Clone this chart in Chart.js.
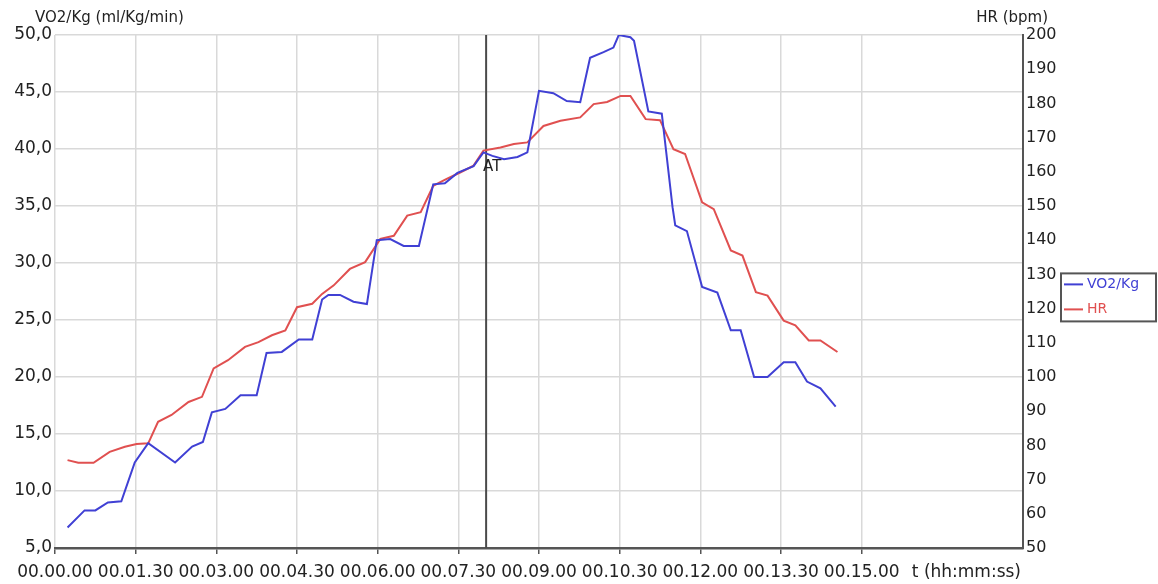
<!DOCTYPE html>
<html>
<head>
<meta charset="utf-8">
<script src="https://cdn.jsdelivr.net/npm/chart.js@4.4.1/dist/chart.umd.min.js"></script>
<style>
html, body { margin: 0; padding: 0; background: #fff; }
#wrap { width: 1158px; height: 584px; }
</style>
</head>
<body>
<div id="wrap"><canvas id="myChart" width="1158" height="584"></canvas></div>
<script>
// temps en secondes depuis le début de l'épreuve
const vo2Times = [14, 33, 45, 59, 74, 89, 104, 134, 153, 165, 175, 190, 207, 225, 236, 253, 272, 287, 298, 305, 318, 333, 348, 359, 374, 389, 406, 422, 435, 449, 467, 478, 488, 501, 516, 527, 540, 556, 571, 586, 597, 612, 623, 629, 642, 646, 662, 677, 689, 692, 705, 722, 739, 754, 765, 780, 795, 813, 826, 839, 854, 871];
const vo2Values = [6.8, 8.3, 8.3, 9.0, 9.1, 12.5, 14.2, 12.5, 13.9, 14.3, 16.9, 17.2, 18.4, 18.4, 22.1, 22.2, 23.3, 23.3, 26.8, 27.2, 27.2, 26.6, 26.4, 32.0, 32.1, 31.5, 31.5, 36.9, 37.0, 37.9, 38.5, 39.7, 39.4, 39.1, 39.3, 39.7, 45.1, 44.9, 44.2, 44.1, 48.0, 48.5, 48.9, 50.0, 49.8, 49.5, 43.3, 43.1, 34.9, 33.3, 32.8, 27.9, 27.4, 24.1, 24.1, 20.0, 20.0, 21.3, 21.3, 19.6, 19.0, 17.4];

const hrTimes = [14, 26, 43, 61, 78, 91, 104, 115, 130, 149, 164, 177, 193, 212, 227, 242, 257, 270, 287, 298, 311, 329, 346, 363, 378, 393, 408, 422, 437, 452, 467, 478, 497, 512, 527, 545, 564, 586, 601, 616, 631, 642, 659, 675, 690, 703, 722, 735, 754, 767, 782, 795, 813, 826, 841, 854, 873];
const hrValues = [75.7, 74.9, 74.9, 78.1, 79.6, 80.4, 80.6, 86.9, 88.9, 92.7, 94.2, 102.5, 104.9, 108.8, 110.2, 112.2, 113.6, 120.4, 121.4, 124.3, 126.8, 131.6, 133.6, 140.4, 141.3, 147.2, 148.2, 155.9, 157.9, 159.8, 161.8, 166.2, 167.1, 168.1, 168.6, 173.4, 174.9, 175.9, 179.8, 180.4, 182.2, 182.2, 175.4, 175.1, 166.6, 165.2, 151.1, 149.1, 137.0, 135.5, 124.8, 123.8, 116.5, 115.1, 110.7, 110.7, 107.3];

const xTickStep = 90;
const xMax = 1080;
const xLastLabel = 900;
const atTime = 481;

const blue = '#4040d4';
const red = '#e05050';
const axisColor = '#555';
const gridColor = '#d9d9d9';

function formatTime(sec) {
    const m = Math.floor(sec / 60);
    const s = sec % 60;
    return '00.' + String(m).padStart(2, '0') + '.' + String(s).padStart(2, '0');
}

function toPoints(times, values) {
    return times.map((t, i) => ({ x: t, y: values[i] }));
}

// titres des axes, ligne AT et légende encadrée
const extras = {
    id: 'extras',
    beforeDatasetsDraw(chart) {
        const ctx = chart.ctx;
        const area = chart.chartArea;
        const atX = chart.scales.x.getPixelForValue(atTime);
        ctx.save();
        ctx.strokeStyle = '#4a4a4a';
        ctx.lineWidth = 2;
        ctx.beginPath();
        ctx.moveTo(atX, area.top);
        ctx.lineTo(atX, area.bottom);
        ctx.stroke();
        ctx.restore();
    },
    afterDraw(chart) {
        const ctx = chart.ctx;
        const area = chart.chartArea;
        const atX = chart.scales.x.getPixelForValue(atTime);
        ctx.save();
        ctx.font = '15px "DejaVu Sans"';
        ctx.fillStyle = '#222';
        ctx.textBaseline = 'middle';

        ctx.textAlign = 'left';
        ctx.fillText('AT', atX - 3, area.top + 132);
        ctx.fillText('VO2/Kg (ml/Kg/min)', area.left - 20, area.top - 17);

        ctx.textAlign = 'right';
        ctx.fillText('HR (bpm)', area.right + 25, area.top - 17);
        ctx.font = '17px "DejaVu Sans"';
        ctx.fillText('t (hh:mm:ss)', area.right - 2, area.bottom + 25);

        // légende
        const lx = chart.scales.y1.right;
        const ly = chart.scales.y1.getPixelForValue(130) - 1;
        ctx.fillStyle = '#fff';
        ctx.fillRect(lx, ly, 95, 48);
        ctx.strokeStyle = axisColor;
        ctx.lineWidth = 2;
        ctx.strokeRect(lx, ly, 95, 48);

        ctx.font = '14px "DejaVu Sans"';
        ctx.textAlign = 'left';
        const items = [['VO2/Kg', blue, 11], ['HR', red, 36]];
        items.forEach(([text, color, dy]) => {
            ctx.strokeStyle = color;
            ctx.beginPath();
            ctx.moveTo(lx + 3, ly + dy);
            ctx.lineTo(lx + 22, ly + dy);
            ctx.stroke();
            ctx.fillStyle = color;
            ctx.fillText(text, lx + 26, ly + dy);
        });
        ctx.restore();
    }
};

const ctx = document.getElementById('myChart').getContext('2d');
new Chart(ctx, {
    type: 'line',
    data: {
        datasets: [
            {
                label: 'VO2/Kg',
                data: toPoints(vo2Times, vo2Values),
                yAxisID: 'y',
                borderColor: blue,
                borderWidth: 2,
                pointRadius: 0,
                tension: 0,
                fill: false,
            },
            {
                label: 'HR',
                data: toPoints(hrTimes, hrValues),
                yAxisID: 'y1',
                borderColor: red,
                borderWidth: 2,
                pointRadius: 0,
                tension: 0,
                fill: false,
            },
        ],
    },
    options: {
        responsive: false,
        animation: false,
        devicePixelRatio: 1,
        layout: { padding: { top: 35, right: 97, bottom: 0, left: 0 } },
        plugins: {
            legend: { display: false },
            tooltip: { enabled: false },
        },
        scales: {
            x: {
                type: 'linear',
                min: 0,
                max: xMax,
                afterFit: (scale) => { scale.height = 36; },
                ticks: {
                    stepSize: xTickStep,
                    autoSkip: false,
                    maxRotation: 0,
                    padding: 8,
                    color: '#222',
                    font: { family: 'DejaVu Sans', size: 17 },
                    callback: (v) => (v <= xLastLabel ? formatTime(v) : ''),
                },
                grid: {
                    color: (c) => (c.tick && c.tick.value <= xLastLabel ? gridColor : 'rgba(0,0,0,0)'),
                    tickColor: (c) => (c.tick && c.tick.value <= xLastLabel ? axisColor : 'rgba(0,0,0,0)'),
                    lineWidth: 1.5,
                    tickLength: 6,
                },
                border: { display: true, color: axisColor, width: 2.5 },
            },
            y: {
                position: 'left',
                min: 5,
                max: 50,
                afterFit: (scale) => { scale.width = 55; },
                ticks: {
                    stepSize: 5,
                    padding: 3,
                    color: '#222',
                    font: { family: 'DejaVu Sans', size: 17 },
                    callback: (v) => v.toFixed(1).replace('.', ','),
                },
                grid: { color: gridColor, lineWidth: 1.5, drawTicks: false },
                border: { display: false },
            },
            y1: {
                position: 'right',
                min: 50,
                max: 200,
                afterFit: (scale) => { scale.width = 38; },
                ticks: {
                    stepSize: 10,
                    padding: 3,
                    color: '#222',
                    font: { family: 'DejaVu Sans', size: 16 },
                },
                grid: { drawOnChartArea: false, drawTicks: false },
                border: { display: true, color: axisColor, width: 2 },
            },
        },
    },
    plugins: [extras],
});
</script>
</body>
</html>
